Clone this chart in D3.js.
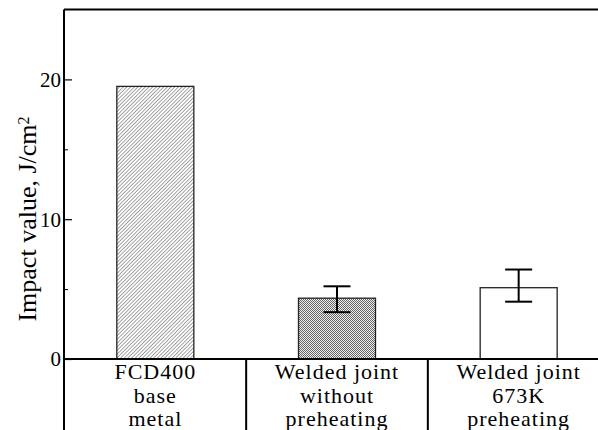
<!DOCTYPE html>
<html><head><meta charset="utf-8">
<script src="https://cdn.jsdelivr.net/npm/d3@7"></script>
<style>body{margin:0;background:#fff}svg{display:block}</style>
</head><body>
<svg id="c" width="598" height="430"></svg>
<script>
const categories = [["FCD400","base","metal"],["Welded joint","without","preheating"],["Welded joint","673K","preheating"]];
const values = [19.5, 4.35, 5.1];
const errLow = [null, 3.35, 4.1];
const errHigh = [null, 5.2, 6.4];
const majorTicks = [0, 10, 20];
const minorTicks = [5, 15];
const fills = ["url(#hatch)", "url(#check)", "#fff"];

const SERIF = '"Liberation Serif"';

const svg = d3.select("#c");
const defs = svg.append("defs");
const h = defs.append("pattern").attr("id","hatch").attr("patternUnits","userSpaceOnUse")
  .attr("width",2.6).attr("height",2.6).attr("patternTransform","rotate(45)");
h.append("rect").attr("width",2.6).attr("height",2.6).attr("fill","#fff");
h.append("line").attr("x1",0).attr("y1",0).attr("x2",0).attr("y2",2.6).attr("stroke","#5a5a5a").attr("stroke-width",1.1);
const c = defs.append("pattern").attr("id","check").attr("patternUnits","userSpaceOnUse")
  .attr("width",2).attr("height",2);
c.append("rect").attr("width",2).attr("height",2).attr("fill","#eeeeee");
c.append("rect").attr("width",1).attr("height",1).attr("fill","#666");
c.append("rect").attr("x",1).attr("y",1).attr("width",1).attr("height",1).attr("fill","#666");

const x = d3.scaleBand().domain(d3.range(categories.length)).range([64.5, 609.5]);
const y = d3.scaleLinear().domain([0, 25]).range([359, 9.5]);
const left = 64, bottomY = y(0), W = 598, H = 430;
const bw = 77;

svg.append("g").selectAll("rect").data(values).join("rect")
  .attr("x", (d,i) => x(i) + x.bandwidth()/2 - bw/2)
  .attr("y", d => y(d))
  .attr("width", bw)
  .attr("height", d => y(0) - y(d))
  .attr("fill", (d,i) => fills[i])
  .attr("stroke", "#222").attr("stroke-width", 1.3);

const eb = svg.append("g").attr("stroke","#000").attr("stroke-width",2);
values.forEach((v,i) => {
  if (errLow[i] == null) return;
  const cx = x(i) + x.bandwidth()/2;
  eb.append("line").attr("x1",cx).attr("x2",cx).attr("y1",y(errLow[i])).attr("y2",y(errHigh[i]));
  eb.append("line").attr("x1",cx-13.5).attr("x2",cx+13.5).attr("y1",y(errLow[i])).attr("y2",y(errLow[i]));
  eb.append("line").attr("x1",cx-13.5).attr("x2",cx+13.5).attr("y1",y(errHigh[i])).attr("y2",y(errHigh[i]));
});

const fr = svg.append("g").attr("stroke","#000").attr("stroke-width",2);
fr.append("line").attr("x1",left).attr("x2",left).attr("y1",y(25)).attr("y2",H);
fr.append("line").attr("x1",left).attr("x2",W).attr("y1",y(25)).attr("y2",y(25));
fr.append("line").attr("x1",left).attr("x2",W).attr("y1",bottomY).attr("y2",bottomY);
d3.range(1, categories.length).forEach(i => {
  fr.append("line").attr("x1",x(i)).attr("x2",x(i)).attr("y1",bottomY).attr("y2",H);
});

const yAxis = d3.axisRight(y).tickValues(majorTicks).tickSize(8).tickFormat("");
const ya = svg.append("g").attr("transform",`translate(${left},0)`).call(yAxis);
ya.select(".domain").remove();
ya.selectAll(".tick line").attr("stroke","#000").attr("stroke-width",1.2);
const yMinor = d3.axisRight(y).tickValues(minorTicks).tickSize(4).tickFormat("");
const ym = svg.append("g").attr("transform",`translate(${left},0)`).call(yMinor);
ym.select(".domain").remove();
ym.selectAll(".tick line").attr("stroke","#000").attr("stroke-width",1);

svg.append("g").selectAll("text").data(majorTicks).join("text")
  .attr("x", left - 3).attr("y", d => y(d)).attr("dy","0.35em")
  .attr("text-anchor","end").style("font-family", SERIF).style("font-size","21px")
  .text(d => d);

const yl = svg.append("text").attr("transform","translate(36,219) rotate(-90)")
  .attr("text-anchor","middle").style("font-family", SERIF).style("font-size","26px");
yl.append("tspan").text("Impact value, J/cm");
yl.append("tspan").attr("dy","-0.45em").style("font-size","16px").text("2");

categories.forEach((lines,i) => {
  const cx = x(i) + x.bandwidth()/2;
  lines.forEach((s,j) => svg.append("text")
    .attr("x", cx).attr("y", 379 + j*23.5)
    .attr("text-anchor","middle")
    .style("font-family", SERIF).style("font-size","22px").style("letter-spacing","1px")
    .text(s));
});
</script>
</body></html>
